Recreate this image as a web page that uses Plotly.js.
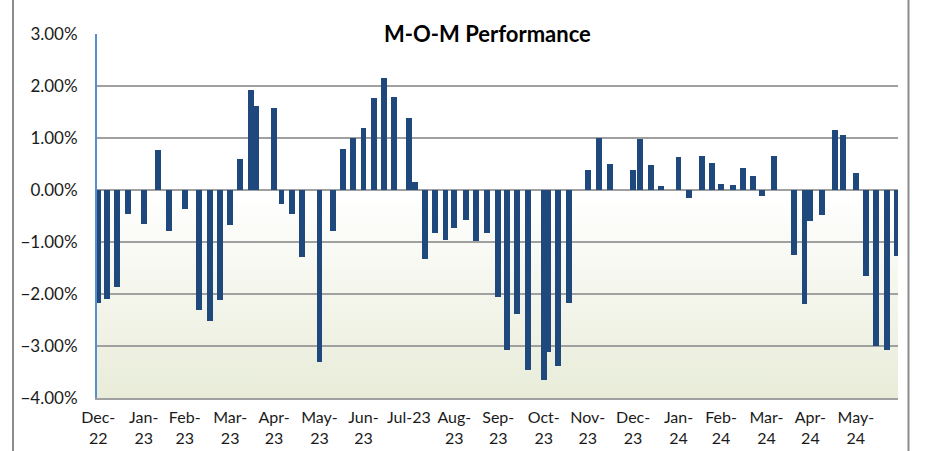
<!DOCTYPE html>
<html>
<head>
<meta charset="utf-8">
<script src="https://cdn.plot.ly/plotly-3.0.1.min.js"></script>
<style>
  html, body { margin: 0; padding: 0; background: #ffffff; }
  #wrap { position: relative; width: 925px; height: 451px; overflow: hidden; }
  #chart { width: 925px; height: 451px; }
  #leftborder { position: absolute; left: 12px; top: 0; width: 0; height: 451px; border-left: 2px solid #8c8c8c; pointer-events: none; }
</style>
</head>
<body>
<div id="wrap">
  <div id="chart"></div>
  <div id="leftborder"></div>
</div>
<script>
// Dates of each return observation
const dates = [
  "2022-12-31","2023-01-06","2023-01-13","2023-01-20","2023-01-31","2023-02-10","2023-02-17","2023-02-28","2023-03-10","2023-03-17","2023-03-24","2023-03-31",
  "2023-04-07","2023-04-14","2023-04-18","2023-04-30","2023-05-05","2023-05-12","2023-05-19","2023-05-31","2023-06-09","2023-06-16","2023-06-23","2023-06-30",
  "2023-07-07","2023-07-14","2023-07-21","2023-07-31","2023-08-04","2023-08-11","2023-08-18","2023-08-25","2023-08-31","2023-09-08","2023-09-15","2023-09-22",
  "2023-09-30","2023-10-06","2023-10-13","2023-10-20","2023-10-31","2023-11-03","2023-11-10","2023-11-17","2023-11-30","2023-12-08","2023-12-15","2023-12-31",
  "2024-01-05","2024-01-12","2024-01-19","2024-01-31","2024-02-07","2024-02-16","2024-02-23","2024-02-29","2024-03-08","2024-03-15","2024-03-22","2024-03-28",
  "2024-04-05","2024-04-19","2024-04-26","2024-04-30","2024-05-08","2024-05-17","2024-05-22","2024-05-31","2024-06-07","2024-06-14","2024-06-21","2024-06-28"
];

// Performance in percent
const performance = [
  -2.18, -2.09, -1.87, -0.45, -0.65, 0.78, -0.78, -0.36, -2.30, -2.51, -2.11, -0.67,
   0.60,  1.92,  1.61,  1.58, -0.26, -0.45, -1.28, -3.30, -0.79, 0.80, 1.00, 1.19,
   1.77,  2.15,  1.80,  1.39,  0.16, -1.32, -0.83, -0.96, -0.72, -0.57, -0.98, -0.83,
  -2.05, -3.08, -2.39, -3.47, -3.66, -3.12, -3.39, -2.18,  0.38,  1.00,  0.51,  0.38,
   0.99,  0.49,  0.08,  0.63, -0.15,  0.66,  0.52,  0.12,  0.10,  0.42,  0.27, -0.12,
   0.66, -1.25, -2.20, -0.59, -0.47,  1.16,  1.06,  0.33, -1.65, -3.00, -3.08, -1.26
];

// Month tick positions and labels
const tickDates = [
  "2022-12-31","2023-01-31","2023-02-28","2023-03-31","2023-04-30","2023-05-31","2023-06-30","2023-07-31","2023-08-31",
  "2023-09-30","2023-10-31","2023-11-30","2023-12-31","2024-01-31","2024-02-29","2024-03-31","2024-04-30","2024-05-31"
];
const tickLabels = [
  "Dec-<br>22","Jan-<br>23","Feb-<br>23","Mar-<br>23","Apr-<br>23","May-<br>23","Jun-<br>23","Jul-23","Aug-<br>23",
  "Sep-<br>23","Oct-<br>23","Nov-<br>23","Dec-<br>23","Jan-<br>24","Feb-<br>24","Mar-<br>24","Apr-<br>24","May-<br>24"
];

const xRange = ["2022-12-30 03:00", "2024-06-28 19:00"];
const FONT = "Lato, 'Open Sans', sans-serif";

const gradSvg = "<svg xmlns='http://www.w3.org/2000/svg' width='100' height='100' preserveAspectRatio='none'>" +
  "<defs><linearGradient id='g' x1='0' y1='0' x2='0' y2='1'>" +
  "<stop offset='0' stop-color='#ffffff'/><stop offset='0.44' stop-color='#ffffff'/>" +
  "<stop offset='1' stop-color='#e8ecd8'/></linearGradient></defs>" +
  "<rect width='100' height='100' fill='url(#g)'/></svg>";

const trace = {
  type: "bar",
  x: dates,
  y: performance,
  width: 4 * 86400000,
  marker: { color: "#1f497d", line: { width: 0 } },
  hoverinfo: "x+y"
};

const layout = {
  width: 925,
  height: 451,
  margin: { l: 97, r: 26.5, t: 34, b: 52.7 },
  paper_bgcolor: "#ffffff",
  plot_bgcolor: "rgba(0,0,0,0)",
  showlegend: false,
  bargap: 0,
  font: { family: FONT, color: "#000000", size: 17 },
  title: {
    text: "<b>M-O-M Performance</b>",
    font: { family: FONT, size: 22, color: "#000000" },
    x: 0.527, xanchor: "center",
    y: 1 - 34 / 451, yanchor: "middle"
  },
  xaxis: {
    type: "date",
    range: xRange,
    tickvals: tickDates,
    ticktext: tickLabels,
    ticks: "",
    showgrid: false,
    showline: true,
    linecolor: "#a0a0a0",
    linewidth: 2,
    zeroline: false,
    tickfont: { family: FONT, size: 16, color: "#1a1a1a" },
    ticklabelstandoff: 4
  },
  xaxis2: {
    type: "date",
    range: xRange,
    overlaying: "x",
    anchor: "free",
    position: 4 / 7.005,
    side: "bottom",
    tickvals: tickDates,
    ticks: "outside",
    ticklen: 5,
    tickwidth: 1.5,
    tickcolor: "#8c8c8c",
    showticklabels: false,
    showgrid: false,
    showline: false,
    zeroline: false
  },
  yaxis: {
    range: [-4, 3.005],
    dtick: 1,
    tick0: 0,
    tickformat: ".2f",
    ticksuffix: "%",
    showgrid: true,
    gridcolor: "#a0a0a0",
    gridwidth: 2,
    zeroline: true,
    zerolinecolor: "#a0a0a0",
    zerolinewidth: 2,
    showline: true,
    linecolor: "#5b8ccf",
    linewidth: 2,
    ticks: "",
    ticklabelstandoff: 14,
    tickfont: { family: FONT, size: 17, color: "#1a1a1a" }
  },
  images: [{
    source: "data:image/svg+xml;utf8," + encodeURIComponent(gradSvg),
    xref: "paper", yref: "paper",
    x: 0, y: 1, sizex: 1, sizey: 1,
    xanchor: "left", yanchor: "top",
    sizing: "stretch",
    layer: "below"
  }],
  shapes: [
    { type: "line", xref: "paper", yref: "paper", x0: (909 - 97) / 801.5, x1: (909 - 97) / 801.5, y0: -0.2, y1: 1.1,
      line: { color: "#8c8c8c", width: 2 } }
  ]
};

Plotly.newPlot("chart", [trace], layout, { displayModeBar: false, staticPlot: true });
</script>
</body>
</html>
